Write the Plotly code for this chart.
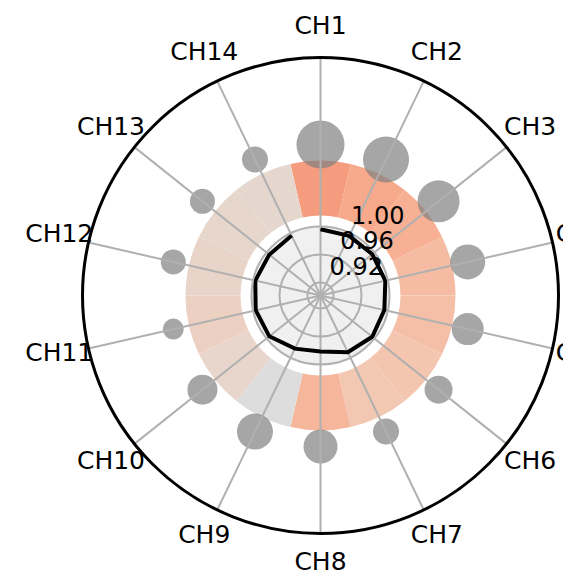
import plotly.graph_objects as go
from plotly.colors import sample_colorscale

# ---------------- data ----------------
channels = ["CH1", "CH2", "CH3", "CH4", "CH5", "CH6", "CH7",
            "CH8", "CH9", "CH10", "CH11", "CH12", "CH13", "CH14"]
line_values = [0.956, 0.956, 0.956, 0.9564, 0.955, 0.956, 0.9514,
               0.9414, 0.9457, 0.955, 0.9564, 0.957, 0.955, 0.9564]
ring_values = [0.745, 0.71, 0.69, 0.65, 0.64, 0.62, 0.61,
               0.67, 0.50, 0.55, 0.57, 0.555, 0.545, 0.54]
bubble_values = [48, 46, 42, 35, 32, 28, 26, 34, 36, 30, 21, 25, 25, 26]
radial_tick_values = [0.92, 0.96, 1.00]
inner_grid_values = [0.88, 0.92]

# ---------------- geometry / style ----------------
PAGE_OFF = 8                   # default body margin of the html page
W, H = 600, 583 - PAGE_OFF     # wider than the window; the overflow is not shown
CX, CY = 320.5 - PAGE_OFF, 295.5 - PAGE_OFF   # centre in div px (from top-left)
R_OUT = 238                    # outer circle radius (px)
R_TXT = 268                    # radius of the channel label centres (px)
R_TXT_POLAR = 280              # radius of the label-carrying overlay
R_DISK = 69                    # grey disk radius (px)
R_LAB = 99                     # radius of the radial-label overlay
LAB_DX, LAB_DY = -30, 4        # radial-label overlay offset (px, right / up)
PX_PER_UNIT = 700.0            # px per unit of line value
V_EDGE = 0.96                  # value at the disk edge
V0 = V_EDGE - R_DISK / PX_PER_UNIT
RING_IN, RING_OUT = 80, 135
BUBBLE_R = 151
FONT = "DejaVu Sans"

coolwarm = [
    [0.0, "rgb(59,76,192)"], [0.25, "rgb(141,176,254)"], [0.375, "rgb(184,208,249)"],
    [0.5, "rgb(221,221,221)"], [0.5625, "rgb(235,211,198)"], [0.625, "rgb(245,196,173)"],
    [0.6875, "rgb(247,177,148)"], [0.75, "rgb(244,154,123)"], [0.875, "rgb(222,96,77)"],
    [1.0, "rgb(180,4,38)"],
]
ring_colors = sample_colorscale(coolwarm, ring_values)


def dom(r, dx=0.0, dy=0.0):
    cx = CX + dx
    cy_b = H - CY + dy
    return dict(x=[(cx - r) / W, (cx + r) / W], y=[(cy_b - r) / H, (cy_b + r) / H])


n = len(channels)
fig = go.Figure()

# ring of coloured bars (one category wide each)
fig.add_trace(go.Barpolar(
    theta=channels, r=[RING_OUT - RING_IN] * n, base=[RING_IN] * n,
    marker=dict(color=ring_colors, line=dict(width=0)),
    subplot="polar", showlegend=False, hoverinfo="skip",
))

# grey bubbles
fig.add_trace(go.Scatterpolar(
    theta=channels, r=[BUBBLE_R] * n, mode="markers",
    marker=dict(size=bubble_values, sizemode="diameter", color="rgb(128,128,128)",
                opacity=0.7, line=dict(width=0)),
    subplot="polar", showlegend=False, hoverinfo="skip",
))

# spokes on top of ring and bubbles
sp_theta, sp_r = [], []
for c in channels:
    sp_theta += [c, c, None]
    sp_r += [0, R_OUT, None]
fig.add_trace(go.Scatterpolar(
    theta=sp_theta, r=sp_r, mode="lines", connectgaps=False,
    line=dict(color="#b0b0b0", width=2),
    subplot="polar", showlegend=False, hoverinfo="skip",
))

# black line in inner disk
fig.add_trace(go.Scatterpolar(
    theta=channels, r=line_values, mode="lines",
    line=dict(color="black", width=4),
    subplot="polar2", showlegend=False, hoverinfo="skip",
))

# invisible trace for the radial-label overlay
fig.add_trace(go.Scatterpolar(
    theta=[channels[0]], r=[V0], mode="markers", marker=dict(size=0.1, color="rgba(0,0,0,0)"),
    subplot="polar3", showlegend=False, hoverinfo="skip",
))

# channel labels, centred outside the circle
fig.add_trace(go.Scatterpolar(
    theta=channels, r=[R_TXT] * n, mode="text", text=channels,
    textposition="middle center", cliponaxis=False,
    textfont=dict(size=25, family=FONT, color="black"),
    subplot="polar4", showlegend=False, hoverinfo="skip",
))

ang_common = dict(type="category", categoryarray=channels, direction="clockwise",
                  rotation=90)
hidden_ang = dict(**ang_common, showline=False, showgrid=False, showticklabels=False, ticks="")

fig.update_layout(
    width=W, height=H, autosize=False,
    margin=dict(l=0, r=0, t=0, b=0),
    paper_bgcolor="white",
    font=dict(family=FONT, color="black"),
    polar=dict(
        domain=dom(R_OUT), bgcolor="white", bargap=0,
        radialaxis=dict(range=[0, R_OUT], visible=False),
        angularaxis=dict(**ang_common, showline=True, linecolor="black", linewidth=3,
                         showgrid=False, ticks="", showticklabels=False),
    ),
    polar2=dict(
        domain=dom(R_DISK), bgcolor="#f0f0f0",
        radialaxis=dict(range=[V0, V_EDGE], tickvals=inner_grid_values, showticklabels=False,
                        showline=False, ticks="", gridcolor="#b0b0b0", gridwidth=2),
        angularaxis=dict(**ang_common, showline=True, linecolor="#b0b0b0", linewidth=2,
                         showticklabels=False, ticks="", gridcolor="#b0b0b0", gridwidth=2),
    ),
    polar3=dict(
        domain=dom(R_LAB, LAB_DX, LAB_DY), bgcolor="rgba(0,0,0,0)",
        radialaxis=dict(range=[V0, V0 + R_LAB / PX_PER_UNIT], tickvals=radial_tick_values,
                        tickformat=".2f", showline=False, showgrid=False,
                        angle=67.5, side="clockwise", tickangle=67.5,
                        ticks="outside", ticklen=8, tickcolor="rgba(0,0,0,0)",
                        tickfont=dict(size=24, family=FONT, color="black")),
        angularaxis=hidden_ang,
    ),
    polar4=dict(
        domain=dom(R_TXT_POLAR), bgcolor="rgba(0,0,0,0)",
        radialaxis=dict(range=[0, R_TXT_POLAR], visible=False),
        angularaxis=hidden_ang,
    ),
)

fig.write_html("out.html")
